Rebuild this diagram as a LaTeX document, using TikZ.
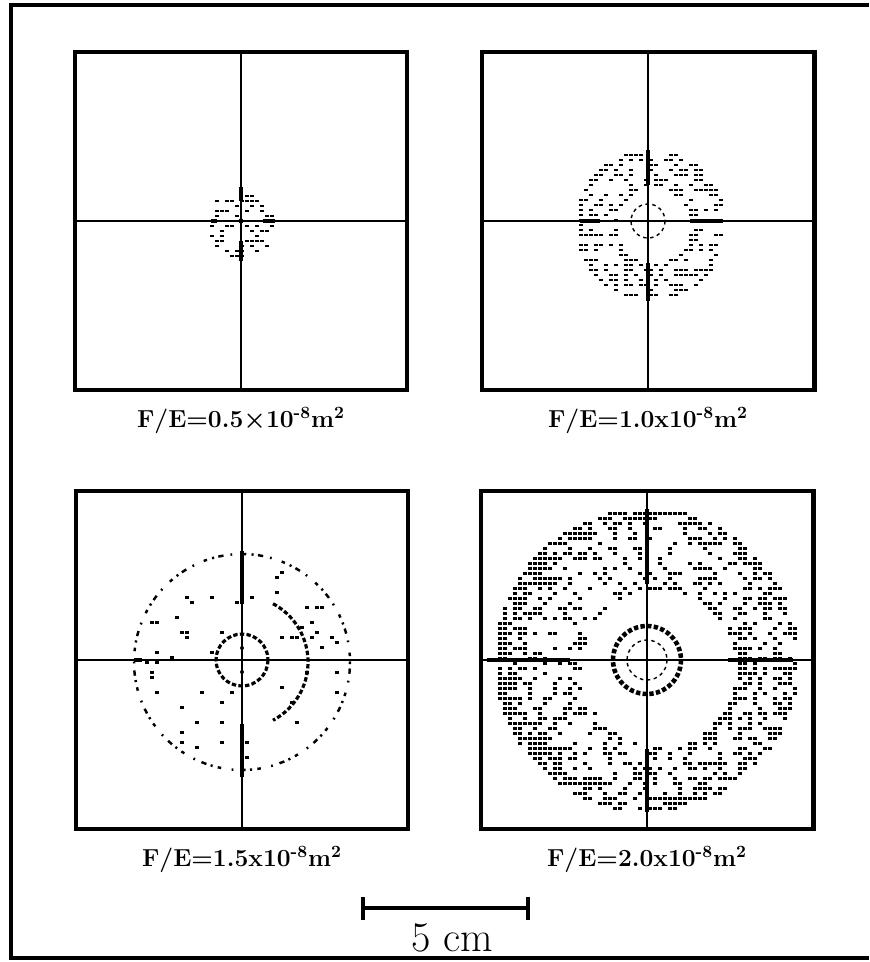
\documentclass[tikz,border=0pt]{standalone}
\usetikzlibrary{arrows.meta, positioning}

% stipple: #1,#2 disc centre, #3 disc radius, #4,#5 hole centre, #6 hole radius, #7 base density, #8 rim density
\newcommand{\speckle}[8]{%
  \pgfmathsetmacro{\xa}{round(#1-#3)}\pgfmathsetmacro{\xb}{\xa+5}\pgfmathsetmacro{\xc}{#1+#3}%
  \pgfmathsetmacro{\ya}{round(#2-#3)}\pgfmathsetmacro{\yb}{\ya+5}\pgfmathsetmacro{\yc}{#2+#3}%
  \foreach \sy in {\ya,\yb,...,\yc}{%
    \foreach \sx in {\xa,\xb,...,\xc}{%
      \pgfmathsetmacro{\dd}{veclen(\sx-(#1),\sy-(#2))}%
      \pgfmathsetmacro{\dh}{max(1,veclen(\sx-(#4),\sy-(#5)))}%
      \pgfmathtruncatemacro{\keep}{(\dd<#3)*(\dh>#6)*(rnd<#7+#8*(\dd/#3)^8*(0.5+0.5*max(0,((#1)-(\sx))/max(1,\dd)))+#8*(min(1,#6/\dh))^8*(0.3+0.7*max(0,((\sx)-(#4))/\dh)))}%
      \ifnum\keep=1 \fill (\sx-2,\sy-1.3) rectangle ++(4.4,2.8);\fi
    }%
  }%
}

\begin{document}
\begin{tikzpicture}[
        x = 0.02cm, y = -0.02cm,
        panel/.style = {draw, line width = 2.3pt, minimum width = 6.66cm, minimum height = 6.76cm, inner sep = 0pt},
        axis/.style = {line width = 0.8pt},
        bar/.style = {line width = 2.8pt},
        ring/.style = {line width = 1.8pt, dash pattern = on 2.5pt off 1.3pt},
        thinring/.style = {line width = 0.8pt, dash pattern = on 2pt off 2pt},
        dotring/.style = {line width = 1.4pt, dash pattern = on 1.2pt off 2.5pt on 3pt off 4pt on 1pt off 6pt on 2pt off 3pt},
        caption/.style = {font = \fontsize{14}{16}\selectfont\bfseries\boldmath, inner sep = 0pt}
    ]
      \useasboundingbox (0,0) rectangle (869,962);
      \pgfmathsetseed{4321}

      % outer frame, open on the right
      \draw[line width = 2pt] (869,5) -- (11,5) -- (11,958) -- (869,958);

      \node[panel] (p05) at (241,221) {};
      \node[panel] (p10) at (648,221) {};
      \node[panel] (p15) at (242,660) {};
      \node[panel] (p20) at (647,660) {};

      \node[caption, below = 3mm of p05] (c05) {F/E=0.5$\times$10\textsuperscript{-8}m\textsuperscript{2}};
      \node[caption, below = 3mm of p10] (c10) {F/E=1.0x10\textsuperscript{-8}m\textsuperscript{2}};
      \node[caption, below = 3mm of p15] (c15) {F/E=1.5x10\textsuperscript{-8}m\textsuperscript{2}};
      \node[caption, below = 3mm of p20] (c20) {F/E=2.0x10\textsuperscript{-8}m\textsuperscript{2}};

      % F/E = 0.5
      \begin{scope}[shift = {(p05.center)}]
        \speckle{0}{4}{34}{0}{0}{0}{0.3}{0.4}
        \draw[bar] (0,-34) -- (0,-20);
        \draw[bar] (0,20) -- (0,40);
        \draw[bar] (-30,0) -- (-24,0);
        \draw[bar] (22,0) -- (34,0);
        \fill (0,0) circle[radius = 2.5];
      \end{scope}

      % F/E = 1.0
      \begin{scope}[shift = {(p10.center)}]
        \speckle{3}{4}{75}{6}{5}{38}{0.26}{0.8}
        \draw[thinring] (0,0) circle[radius = 17];
        \draw[bar] (0,-71) -- (0,-36);
        \draw[bar] (0,42) -- (0,80);
        \draw[bar] (-68,0) -- (-48,0);
        \draw[bar] (42,0) -- (75,0);
      \end{scope}

      % F/E = 1.5
      \begin{scope}[shift = {(p15.center)}]
        \draw[dotring] (0,2) circle[radius = 108];
        \speckle{0}{2}{100}{0}{0}{30}{0.04}{0}
        \draw[ring] (0,2) ++(-62:66) arc[start angle = -62, end angle = 62, radius = 66];
        \draw[ring] (0,0) circle[radius = 26];
        \draw[bar] (0,-109) -- (0,-56);
        \draw[bar] (0,64) -- (0,117);
        \draw[bar] (-108,0) -- (-100,0);
        \fill (0,-12) circle[radius = 2];
        \fill (0,12) circle[radius = 2];
      \end{scope}

      % F/E = 2.0
      \begin{scope}[shift = {(p20.center)}]
        \speckle{0}{0}{152}{12}{8}{78}{0.22}{0.85}
        \draw[ring, line width = 2.6pt] (0,0) circle[radius = 34];
        \draw[thinring] (0,0) circle[radius = 20];
        \draw[bar] (0,-151) -- (0,-76);
        \draw[bar] (0,89) -- (0,152);
        \draw[bar] (-160,0) -- (-77,0);
        \draw[bar] (81,0) -- (146,0);
      \end{scope}

      % cross hairs
      \foreach \p in {p05, p10, p15, p20} {
        \draw[axis] (\p.north) -- (\p.south);
        \draw[axis] (\p.west) -- (\p.east);
      }

      % scale bar
      \coordinate (bl) at (361,908);
      \coordinate (br) at (530,908);
      \draw[line width = 2.2pt, {Bar[width = 4.6mm, line width = 2.2pt]}-{Bar[width = 4.6mm, line width = 2.2pt]}] (bl) -- (br);
      \node[font = \fontsize{24}{28}\selectfont] (len) at (452,938) {5 cm};
    \end{tikzpicture}
\end{document}
